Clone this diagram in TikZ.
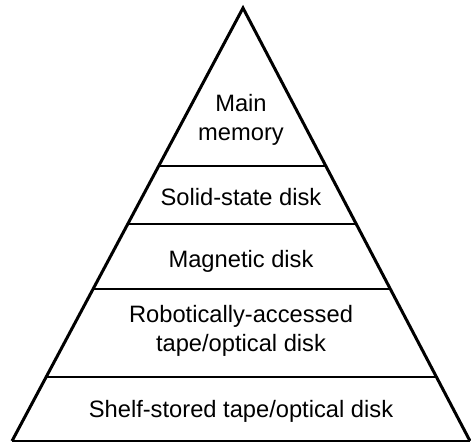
\documentclass[tikz,border=0pt]{standalone}
\usepackage{fontspec}
\setmainfont{Liberation Sans}
\usetikzlibrary{calc}

\begin{document}
\begin{tikzpicture}
  [x=1pt,y=-1pt,line join=miter,
   every node/.style={font=\fontsize{23.7}{28.5}\selectfont,align=center,anchor=base,inner sep=0pt},
   side/.style={line width=3pt},
   band/.style={line width=2pt}]
  \useasboundingbox (0,0) rectangle (471,442);
  \coordinate (apex) at (243,8);
  \coordinate (bl) at (12,441);
  \coordinate (br) at (470,441);

  \draw[side] (bl) -- (apex) -- (br);
  \draw[band] (bl) -- (br);
  \foreach \y in {166,224,289,377}
    \draw[band] ($(apex)!{(\y-8)/433}!(bl)$) -- ($(apex)!{(\y-8)/433}!(br)$);

  \node (mem) at (241,140) {Main\\memory};
  \node (ssd) at (241,205) {Solid-state disk};
  \node (mag) at (241,267) {Magnetic disk};
  \node (robo) at (241,351) {Robotically-accessed\\tape/optical disk};
  \node (shelf) at (241,417) {Shelf-stored tape/optical disk};

\end{tikzpicture}
\end{document}
